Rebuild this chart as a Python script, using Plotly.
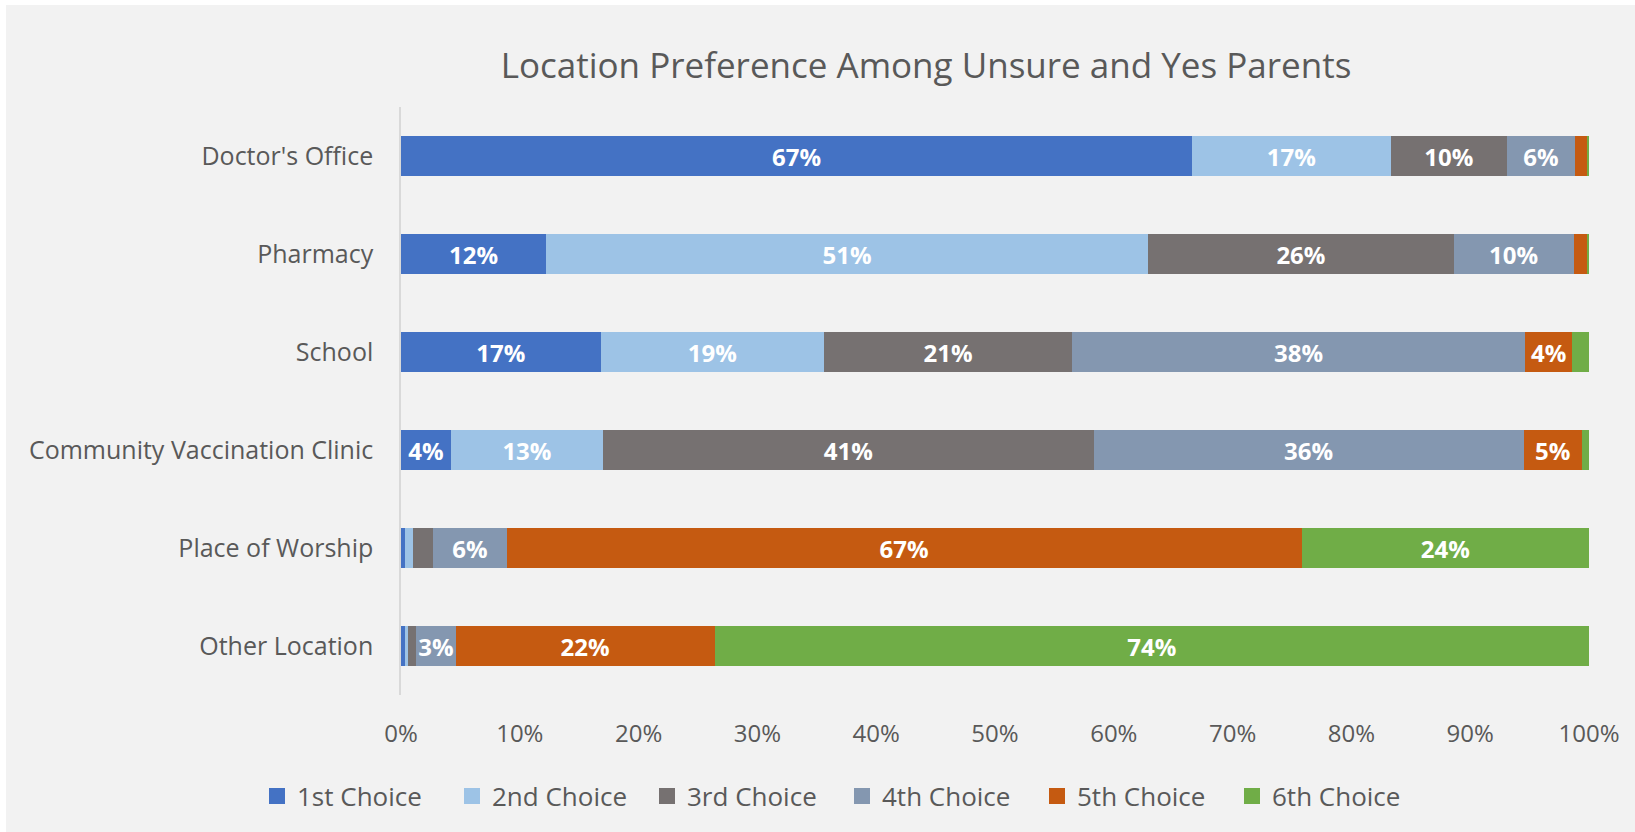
import plotly.graph_objects as go

categories = ["Doctor's Office", "Pharmacy", "School", "Community Vaccination Clinic",
              "Place of Worship", "Other Location"]
series_names = ["1st Choice", "2nd Choice", "3rd Choice", "4th Choice", "5th Choice", "6th Choice"]

choice1 = [66.6, 12.2, 16.8, 4.2, 0.3, 0.3]
choice2 = [16.7, 50.7, 18.8, 12.8, 0.7, 0.3]
choice3 = [9.8, 25.7, 20.9, 41.3, 1.7, 0.7]
choice4 = [5.7, 10.1, 38.1, 36.2, 6.2, 3.3]
choice5 = [1.0, 1.1, 4.0, 4.9, 66.9, 21.8]
choice6 = [0.2, 0.2, 1.4, 0.6, 24.2, 73.6]

tick_values = [0, 10, 20, 30, 40, 50, 60, 70, 80, 90, 100]
tick_labels = ["0%", "10%", "20%", "30%", "40%", "50%", "60%", "70%", "80%", "90%", "100%"]

colors = ["#4472C4", "#9DC3E6", "#767171", "#8497B0", "#C55A11", "#70AD47"]

W, H = 1635, 832
L, R, T, B = 401, 46, 107, 137

fig = go.Figure()
for name, vals, col in zip(series_names, [choice1, choice2, choice3, choice4, choice5, choice6], colors):
    texts = [f"{round(v)}%" if v >= 3 else "" for v in vals]
    fig.add_trace(go.Bar(
        y=categories, x=vals, name=name, orientation="h",
        marker=dict(color=col, line=dict(width=0)),
        text=texts, textposition="inside", insidetextanchor="middle",
        textangle=0, constraintext="none",
        textfont=dict(family="Open Sans", size=24, color="white", weight="bold"),
        hoverinfo="skip", showlegend=False,
    ))
# legend entries (square swatches)
for name, col in zip(series_names, colors):
    fig.add_trace(go.Scatter(
        x=[None], y=[None], mode="markers", name=name,
        marker=dict(symbol="square", size=18, color=col),
        hoverinfo="skip", showlegend=True,
    ))

pw = W - L - R
ph = H - T - B
def px2x(p):
    return (p - L) / pw
def py2y(p):
    return (H - B - p) / ph

fig.update_layout(
    width=W, height=H,
    margin=dict(l=L, r=R, t=T, b=B, autoexpand=False),
    barmode="stack", bargap=0.59,
    paper_bgcolor="#f2f2f2", plot_bgcolor="#f2f2f2",
    font=dict(family="Open Sans", color="#595959"),
    title=dict(text="Location Preference Among Unsure and Yes Parents",
               x=926 / W, xanchor="center", xref="container",
               y=1 - 66 / H, yanchor="middle", yref="container",
               font=dict(family="Open Sans", size=35, color="#595959")),
    xaxis=dict(range=[0, 100], tickmode="array", tickvals=tick_values, ticktext=tick_labels,
               showgrid=False, zeroline=False, showline=False,
               ticks="", ticklabelstandoff=22,
               tickfont=dict(family="Open Sans", size=24, color="#595959")),
    yaxis=dict(autorange="reversed", showgrid=False, zeroline=False,
               showline=True, linecolor="#d9d9d9", linewidth=1.5,
               ticks="", ticklabelstandoff=21,
               tickfont=dict(family="Open Sans", size=25, color="#595959")),
    legend=dict(orientation="h", xref="container", yref="container",
                x=842 / W, xanchor="center", y=1 - 796 / H, yanchor="middle",
                font=dict(family="Open Sans", size=26, color="#595959"),
                entrywidth=150, entrywidthmode="pixels",
                itemclick=False, bgcolor="rgba(0,0,0,0)", traceorder="normal"),
    shapes=[
        dict(type="rect", xref="paper", yref="paper", layer="below",
             x0=px2x(0), x1=px2x(6), y0=py2y(H), y1=py2y(0),
             fillcolor="white", line=dict(width=0)),
        dict(type="rect", xref="paper", yref="paper", layer="below",
             x0=px2x(0), x1=px2x(W), y0=py2y(5), y1=py2y(0),
             fillcolor="white", line=dict(width=0)),
    ],
)

fig.write_html("out.html", config={"displayModeBar": False},
               post_script="document.body.style.margin='0';document.body.style.padding='0';document.body.style.overflow='hidden';")
